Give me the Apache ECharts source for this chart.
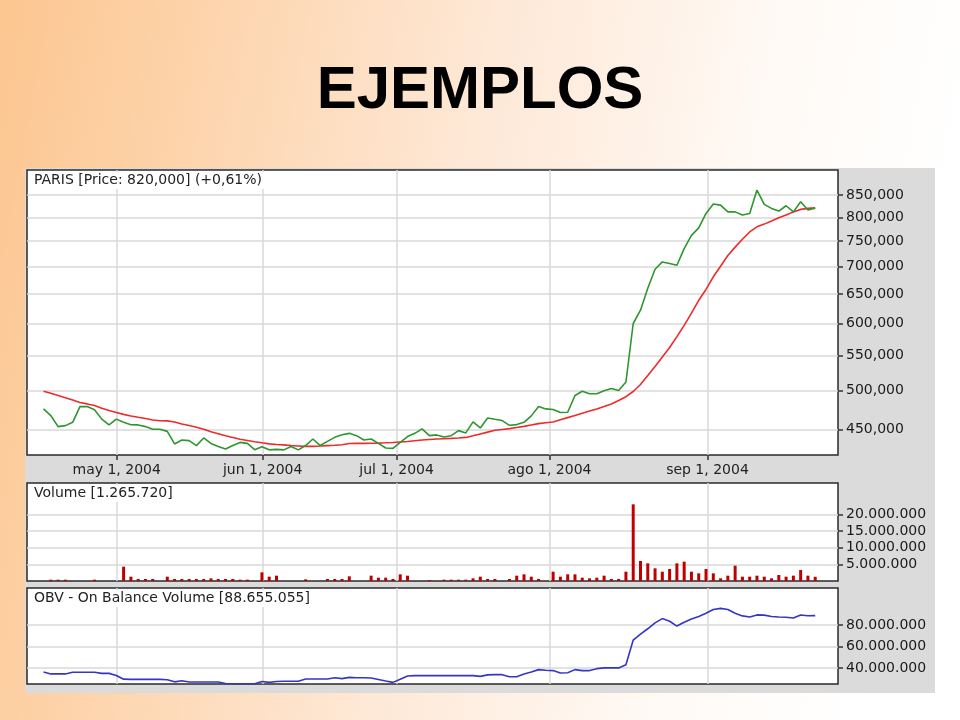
<!DOCTYPE html>
<html><head><meta charset="utf-8">
<script src="https://cdn.jsdelivr.net/npm/echarts@6/dist/echarts.min.js"></script>
<style>html,body{margin:0;padding:0;}#c{width:960px;height:720px;}</style>
</head><body><div id="c"></div>
<script>
// ---- data (one point per trading session, index 0..106) ----
const monthLabels = ['may 1, 2004', 'jun 1, 2004', 'jul 1, 2004', 'ago 1, 2004', 'sep 1, 2004'];
const monthPos = [10.05, 30.1, 48.5, 69.5, 91.2];
const priceTicks = [450000, 500000, 550000, 600000, 650000, 700000, 750000, 800000, 850000];
const volumeTicks = [5000000, 10000000, 15000000, 20000000];
const obvTicks = [40000000, 60000000, 80000000];

// close price (thousands)
const closeK = [476, 467.5, 453.7, 454.9, 459, 479, 479, 475, 463, 455.8,
  463, 459, 456, 455.8, 453.7, 450.4, 450.4, 447.9, 432.9, 437.6,
  436.8, 430.9, 440, 433.5, 430, 427, 431, 434.7, 433.5, 426.2,
  429.7, 426, 426.5, 426, 430, 426, 431, 438.7, 431, 435.9,
  440.7, 443.9, 445.5, 442.7, 437.6, 438.7, 433.5, 428.2, 427.7, 434.7,
  441.6, 445.5, 450.9, 442.7, 443.6, 441.1, 442.7, 448.8, 446, 459.5,
  452.1, 464.5, 462.8, 461.2, 455.3, 456.2, 459, 467.1, 479, 476,
  475.2, 471.3, 471.7, 493.6, 499.4, 495.9, 495.9, 499.9, 503, 500.4,
  512, 600, 622, 660, 695, 709, 706, 702.7, 735, 762,
  777.6, 808.6, 829.4, 827, 812, 812, 805, 808.6, 861.5, 828.7,
  819.7, 813.7, 825.6, 812, 834.6, 816, 820];

// moving average (thousands)
const maK = [499.4, 496.5, 493.5, 490.5, 487.5, 484.3, 482.5, 480.5, 477, 474,
  471.5, 469, 467, 465.3, 463.8, 462, 461, 460.8, 459.5, 457,
  455, 453, 450.5, 447.5, 445, 442.5, 440.5, 438.5, 437, 435.5,
  434.2, 433, 432.2, 431.8, 431, 430.5, 430, 430, 430.4, 430.9,
  431.4, 432, 433.4, 433.5, 433.5, 433.7, 433.9, 434.2, 434.6, 435.2,
  435.8, 436.7, 437.6, 438.2, 438.7, 439.1, 439.5, 440, 440.6, 442.6,
  444.8, 447, 449.2, 450.2, 451.2, 452.6, 454, 455.7, 457.4, 458.5,
  459.5, 462.2, 464.9, 467.6, 470.4, 473.2, 476, 479.2, 482.5, 487,
  492, 499, 508.5, 521, 534, 548, 562.3, 579, 597, 617,
  639, 658, 681, 700.8, 721.5, 738, 754, 769, 779.8, 785.5,
  792, 799, 805, 812, 817.5, 819.7, 821];

// volume (millions)
const volumeM = [0, 0.4, 0.4, 0.4, 0, 0, 0, 0.4, 0, 0,
  0, 4.3, 1.3, 0.6, 0.6, 0.6, 0, 1.3, 0.6, 0.6,
  0.6, 0.6, 0.6, 0.8, 0.6, 0.6, 0.6, 0.4, 0.4, 0,
  2.6, 1.3, 1.6, 0, 0, 0, 0.5, 0, 0, 0.6,
  0.6, 0.6, 1.4, 0, 0, 1.6, 1.0, 1.0, 0.6, 2.0,
  1.6, 0, 0, 0.3, 0, 0.4, 0.4, 0.4, 0.4, 0.8,
  1.3, 0.6, 0.6, 0, 0.6, 1.6, 2.0, 1.3, 0.6, 0,
  2.8, 1.3, 2.0, 2.0, 1.0, 0.8, 1.0, 1.6, 0.6, 0.6,
  2.8, 23.0, 6.0, 5.3, 3.8, 2.8, 3.6, 5.3, 5.8, 2.8,
  2.3, 3.6, 2.3, 0.8, 1.6, 4.6, 1.3, 1.3, 1.6, 1.3,
  0.8, 1.8, 1.3, 1.6, 3.3, 1.6, 1.27];

// on balance volume (millions)
const obvM = [36.2, 34.4, 34.4, 34.4, 35.9, 35.9, 35.9, 35.9, 34.9, 34.9,
  33, 29.5, 29.3, 29.3, 29.3, 29.3, 29.3, 29, 27, 28.1,
  26.9, 26.9, 26.9, 26.9, 26.9, 25.5, 25.3, 25.3, 25.3, 25.3,
  27.4, 26.5, 27.4, 27.5, 27.5, 27.6, 29.7, 29.7, 29.7, 29.7,
  30.8, 30, 31.2, 30.8, 30.8, 30.6, 29.2, 27.8, 26.5, 29.5,
  32.5, 32.8, 32.8, 32.8, 32.8, 32.8, 32.8, 32.8, 32.8, 32.8,
  32.1, 33.5, 33.7, 33.7, 31.8, 31.8, 34.4, 36.2, 38.4, 37.8,
  37.5, 35.3, 35.5, 38.4, 37.5, 37.5, 39.3, 40, 40, 40,
  43, 66, 71.5, 76.5, 82, 86, 83.5, 79, 82.5, 85.5,
  88, 91, 94.5, 95.5, 94.5, 91, 88.5, 87.5, 89.4, 89.2,
  88, 87.5, 87.3, 86.5, 89.4, 88.6, 88.7];

// ---- chart ----
function fmt(v, sep) {
  return Math.round(v).toString().replace(/\B(?=(\d{3})+(?!\d))/g, sep);
}
function monthLabel(v) {
  let best = 0;
  for (let i = 1; i < monthPos.length; i++) {
    if (Math.abs(monthPos[i] - v) < Math.abs(monthPos[best] - v)) best = i;
  }
  return monthLabels[best];
}
const FONT = 'DejaVu Sans';
const GRIDLINE = { color: '#d9d9d9', width: 1.5 };
const xMin = -2.27, xMax = 109.13;

function xAxisFor(gi, showLabels) {
  return {
    type: 'value', gridIndex: gi, min: xMin, max: xMax,
    axisLine: { show: false, onZero: false },
    axisTick: { show: showLabels, customValues: monthPos, length: 5, lineStyle: { color: '#333', width: 1.5 } },
    axisLabel: {
      show: showLabels, customValues: monthPos, formatter: monthLabel, margin: 8,
      fontFamily: FONT, fontSize: 14, color: '#222'
    },
    splitLine: { show: true, lineStyle: GRIDLINE }
  };
}
function yLabel(sep) {
  return { margin: 8, fontFamily: FONT, fontSize: 14, color: '#1a1a1a', formatter: v => fmt(v, sep) };
}

const chart = echarts.init(document.getElementById('c'), null, { renderer: 'canvas' });
const idx = a => a.map((v, i) => [i, v]);

const option = {
  animation: false,
  backgroundColor: {
    type: 'linear', x: 0, y: 0, x2: 1, y2: 0.25,
    colorStops: [
      { offset: 0, color: '#FCC690' },
      { offset: 0.2, color: '#FDD3AA' },
      { offset: 0.5, color: '#FEE8D6' },
      { offset: 0.8, color: '#FFFAF6' },
      { offset: 1, color: '#FFFFFF' }
    ]
  },
  graphic: {
    elements: [
      { type: 'rect', z: -10, shape: { x: 25, y: 168, width: 910, height: 525 }, style: { fill: '#DBDBDB' } }
    ]
  },
  title: [
    { text: 'EJEMPLOS', left: 'center', top: 61, padding: 0,
      textStyle: { fontFamily: 'Liberation Sans', fontWeight: 'bold', fontSize: 60, color: '#000' } },
    { text: 'PARIS [Price: 820,000] (+0,61%)', left: 28, top: 172, padding: [1, 6, 2, 6], backgroundColor: '#fff',
      textStyle: { fontFamily: FONT, fontWeight: 'normal', fontSize: 14, color: '#222' } },
    { text: 'Volume [1.265.720]', left: 28, top: 485, padding: [1, 6, 2, 6], backgroundColor: '#fff',
      textStyle: { fontFamily: FONT, fontWeight: 'normal', fontSize: 14, color: '#222' } },
    { text: 'OBV - On Balance Volume [88.655.055]', left: 28, top: 590, padding: [1, 6, 2, 6], backgroundColor: '#fff',
      textStyle: { fontFamily: FONT, fontWeight: 'normal', fontSize: 14, color: '#222' } }
  ],
  grid: [
    { left: 27, right: 122, top: 170, height: 285, show: true, backgroundColor: '#fff', borderColor: '#2a2a2a', borderWidth: 1.5 },
    { left: 27, right: 122, top: 483, height: 98, show: true, backgroundColor: '#fff', borderColor: '#2a2a2a', borderWidth: 1.5 },
    { left: 27, right: 122, top: 588, height: 96, show: true, backgroundColor: '#fff', borderColor: '#2a2a2a', borderWidth: 1.5 }
  ],
  xAxis: [xAxisFor(0, true), xAxisFor(1, false), xAxisFor(2, false)],
  yAxis: [
    { type: 'log', logBase: 10, gridIndex: 0, position: 'right', min: 420100, max: 909600,
      axisLine: { show: false, onZero: false },
      axisTick: { show: true, length: 5, customValues: priceTicks, lineStyle: { color: '#333', width: 1.5 } },
      axisLabel: Object.assign({ customValues: priceTicks }, yLabel(',')),
      splitLine: { show: true, lineStyle: GRIDLINE } },
    { type: 'value', gridIndex: 1, position: 'right', min: 0, max: 29400000,
      axisLine: { show: false, onZero: false },
      axisTick: { show: true, length: 5, customValues: volumeTicks, lineStyle: { color: '#333', width: 1.5 } },
      axisLabel: Object.assign({ customValues: volumeTicks }, yLabel('.')),
      splitLine: { show: true, lineStyle: GRIDLINE } },
    { type: 'value', gridIndex: 2, position: 'right', min: 25000000, max: 114500000,
      axisLine: { show: false, onZero: false },
      axisTick: { show: true, length: 5, customValues: obvTicks, lineStyle: { color: '#333', width: 1.5 } },
      axisLabel: Object.assign({ customValues: obvTicks }, yLabel('.')),
      splitLine: { show: true, lineStyle: GRIDLINE } }
  ],
  series: [
    { name: 'MA', type: 'line', xAxisIndex: 0, yAxisIndex: 0, showSymbol: false, z: 3,
      data: idx(maK.map(v => v * 1000)), lineStyle: { color: '#EE2A2A', width: 1.6 } },
    { name: 'Close', type: 'line', xAxisIndex: 0, yAxisIndex: 0, showSymbol: false, z: 4,
      data: idx(closeK.map(v => v * 1000)), lineStyle: { color: '#2E962E', width: 1.6 } },
    { name: 'Volume', type: 'bar', xAxisIndex: 1, yAxisIndex: 1, barWidth: 3,
      data: idx(volumeM.map(v => v * 1e6)), itemStyle: { color: '#C00000' } },
    { name: 'OBV', type: 'line', xAxisIndex: 2, yAxisIndex: 2, showSymbol: false,
      data: idx(obvM.map(v => v * 1e6)), lineStyle: { color: '#3535C8', width: 1.6 } }
  ]
};
chart.setOption(option);
</script>
</body></html>
